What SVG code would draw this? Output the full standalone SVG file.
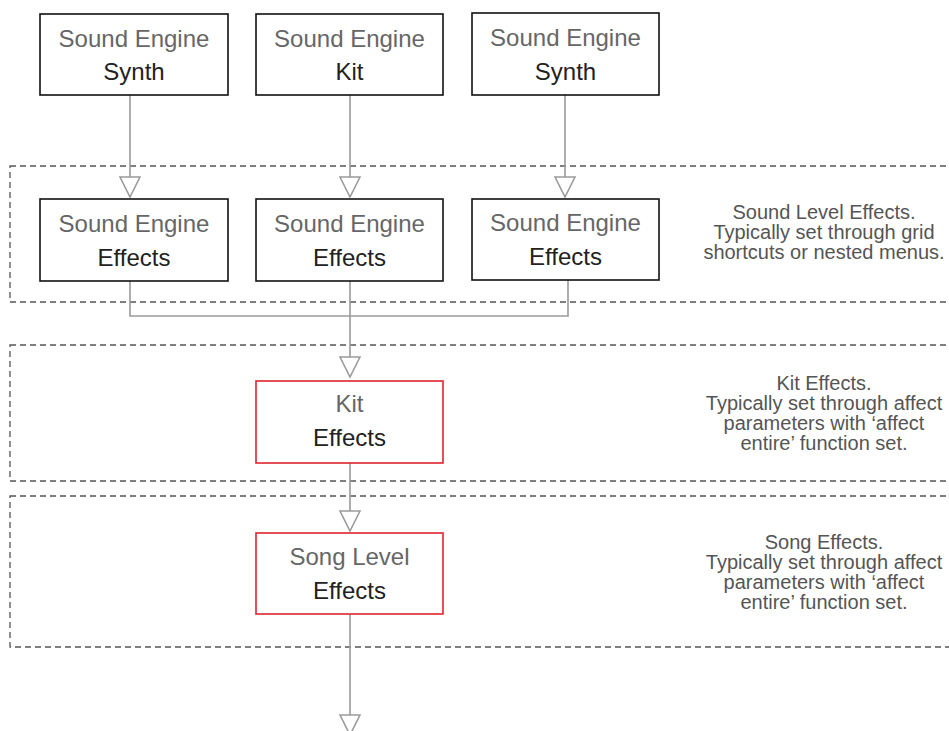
<svg xmlns="http://www.w3.org/2000/svg" width="949" height="731" viewBox="0 0 949 731">
<defs>
<style>
.box{fill:#fff;stroke:#111;stroke-width:1.6}
.red{fill:#fff;stroke:#e0242c;stroke-width:1.6}
.t1{font-family:"Liberation Sans",Arial,sans-serif;font-size:24px;fill:#666;text-anchor:middle}
.t2{font-family:"Liberation Sans",Arial,sans-serif;font-size:24px;fill:#222;text-anchor:middle}
.note{font-family:"Liberation Sans",Arial,sans-serif;font-size:20px;fill:#555;text-anchor:middle}
.region{fill:none;stroke:#555;stroke-width:1.3;stroke-dasharray:6 4}
.conn{fill:none;stroke:#9a9a9a;stroke-width:1.6}
</style>
<marker id="arr" markerUnits="userSpaceOnUse" markerWidth="22" markerHeight="22" viewBox="-1 -1 22 22" refX="20" refY="10" orient="auto">
<path d="M0,0 L20,10 L0,20 Z" fill="#fff" stroke="#9a9a9a" stroke-width="1.6"/>
</marker>
</defs>
<rect width="949" height="731" fill="#fff"/>
<g id="regions">
<rect class="region" x="10" y="166" width="960" height="136"/>
<text class="note" x="824" y="219">Sound Level Effects.</text>
<text class="note" x="824" y="239">Typically set through grid</text>
<text class="note" x="824" y="259">shortcuts or nested menus.</text>
<rect class="region" x="10" y="345" width="960" height="136"/>
<text class="note" x="824" y="390">Kit Effects.</text>
<text class="note" x="824" y="410">Typically set through affect</text>
<text class="note" x="824" y="430">parameters with ‘affect</text>
<text class="note" x="824" y="450">entire’ function set.</text>
<rect class="region" x="10" y="496" width="960" height="151"/>
<text class="note" x="824" y="549">Song Effects.</text>
<text class="note" x="824" y="569">Typically set through affect</text>
<text class="note" x="824" y="589">parameters with ‘affect</text>
<text class="note" x="824" y="609">entire’ function set.</text>
</g>
<g id="connectors">
<line class="conn" x1="130" y1="95" x2="130" y2="197" marker-end="url(#arr)"/>
<line class="conn" x1="350" y1="95" x2="350" y2="197" marker-end="url(#arr)"/>
<line class="conn" x1="565" y1="95" x2="565" y2="197" marker-end="url(#arr)"/>
<path class="conn" d="M130,281 V316 H568 V280"/>
<line class="conn" x1="350" y1="281" x2="350" y2="377" marker-end="url(#arr)"/>
<line class="conn" x1="350" y1="463" x2="350" y2="531" marker-end="url(#arr)"/>
<line class="conn" x1="350" y1="614" x2="350" y2="735" marker-end="url(#arr)"/>
</g>
<g id="synth1">
<rect class="box" x="40" y="14" width="188" height="81"/>
<text class="t1" x="134" y="47">Sound Engine</text>
<text class="t2" x="134" y="80">Synth</text>
</g>
<g id="kit">
<rect class="box" x="256" y="14" width="187" height="81"/>
<text class="t1" x="349.5" y="47">Sound Engine</text>
<text class="t2" x="349.5" y="80">Kit</text>
</g>
<g id="synth2">
<rect class="box" x="472" y="13" width="187" height="82"/>
<text class="t1" x="565.5" y="46">Sound Engine</text>
<text class="t2" x="565.5" y="80">Synth</text>
</g>
<g id="fx1">
<rect class="box" x="40" y="199" width="188" height="82"/>
<text class="t1" x="134" y="232">Sound Engine</text>
<text class="t2" x="134" y="266">Effects</text>
</g>
<g id="fx2">
<rect class="box" x="256" y="199" width="187" height="82"/>
<text class="t1" x="349.5" y="232">Sound Engine</text>
<text class="t2" x="349.5" y="266">Effects</text>
</g>
<g id="fx3">
<rect class="box" x="472" y="199" width="187" height="81"/>
<text class="t1" x="565.5" y="231">Sound Engine</text>
<text class="t2" x="565.5" y="265">Effects</text>
</g>
<g id="kitfx">
<rect class="red" x="256" y="381" width="187" height="82"/>
<text class="t1" x="349.5" y="412">Kit</text>
<text class="t2" x="349.5" y="446">Effects</text>
</g>
<g id="songfx">
<rect class="red" x="256" y="533" width="187" height="81"/>
<text class="t1" x="349.5" y="565">Song Level</text>
<text class="t2" x="349.5" y="599">Effects</text>
</g>
</svg>
